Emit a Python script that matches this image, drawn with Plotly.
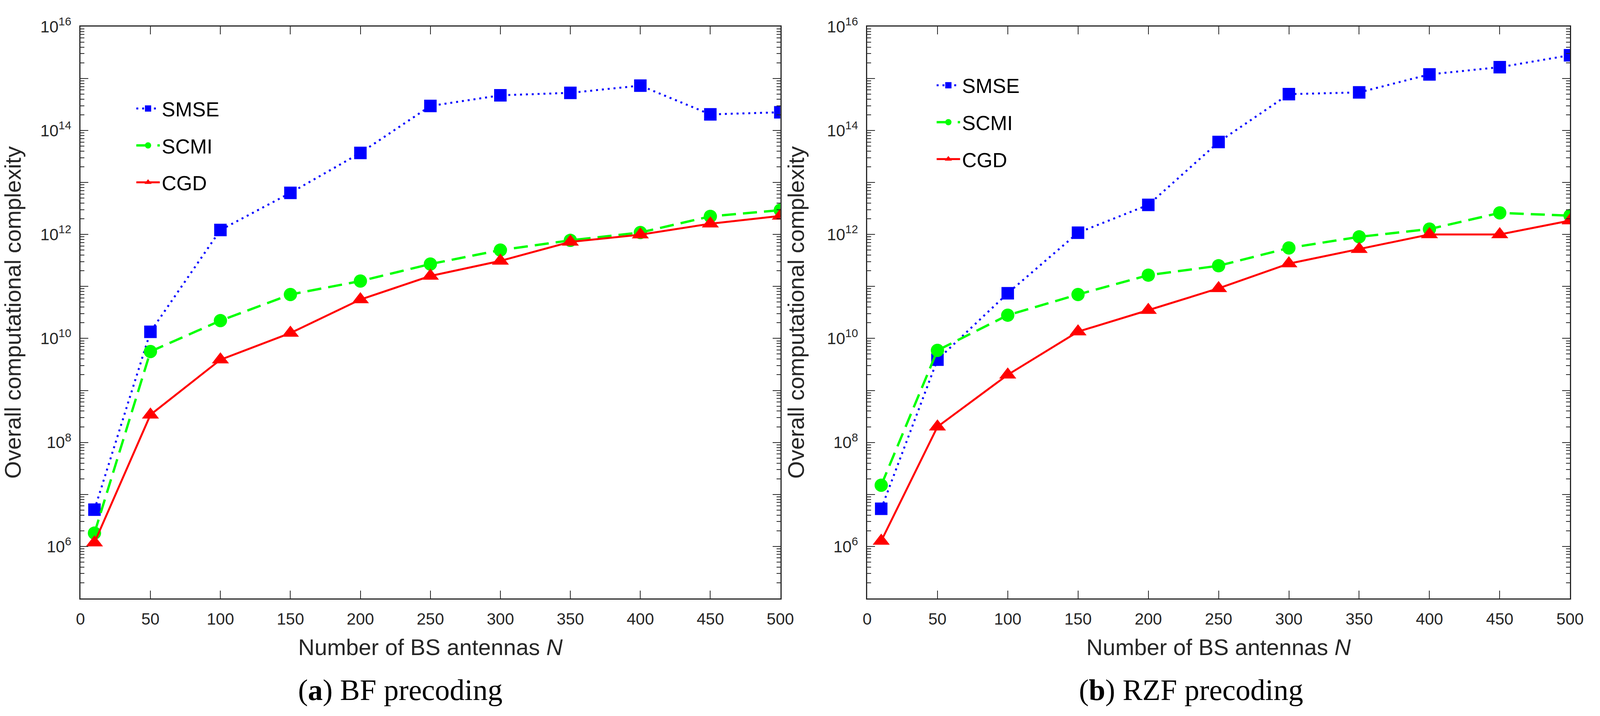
import plotly.graph_objects as go

# number of BS antennas
N = [10, 50, 100, 150, 200, 250, 300, 350, 400, 450, 500]

# (a) BF precoding
bf_smse = [5.1e6, 1.34e10, 1.22e12, 6.3e12, 3.7e13, 2.96e14, 4.75e14, 5.3e14, 7.3e14, 2.04e14, 2.24e14]
bf_scmi = [1.8e6, 5.6e9, 2.2e10, 7.0e10, 1.27e11, 2.7e11, 5.0e11, 7.7e11, 1.09e12, 2.23e12, 2.94e12]
bf_cgd = [1.18e6, 3.4e8, 3.9e9, 1.27e10, 5.6e10, 1.59e11, 3.1e11, 7.2e11, 9.9e11, 1.61e12, 2.27e12]

# (b) RZF precoding
rzf_smse = [5.3e6, 3.9e9, 7.4e10, 1.08e12, 3.7e12, 6.0e13, 5.0e14, 5.4e14, 1.2e15, 1.65e15, 2.8e15]
rzf_scmi = [1.5e7, 5.9e9, 2.8e10, 7.0e10, 1.65e11, 2.5e11, 5.5e11, 9.0e11, 1.27e12, 2.6e12, 2.3e12]
rzf_cgd = [1.27e6, 2.0e8, 2.0e9, 1.35e10, 3.5e10, 9.2e10, 2.75e11, 5.2e11, 1.0e12, 1.0e12, 1.85e12]

names = ["SMSE", "SCMI", "CGD"]
captions = ["(<b>a</b>) BF precoding", "(<b>b</b>) RZF precoding"]

FONT = "Liberation Sans, Arial, Helvetica, sans-serif"
AXC = "#262626"

# y ticks: every decade, labels on even exponents
exps = list(range(5, 17))
ytv = [10.0 ** e for e in exps]
ytt = ["10<sup>%d</sup>" % e if e % 2 == 0 else "" for e in exps]
ymin = [m * 10.0 ** e for e in range(5, 16) for m in range(2, 10)]

styles = [
    dict(color="#0000FF", dash="5px,10px", width=5, symbol="square", size=32),
    dict(color="#00FF00", dash="36px,18px", width=6, symbol="circle", size=34),
    dict(color="#FF0000", dash="solid", width=5, symbol="triangle-up", size=38),
]

fig = go.Figure()

panels = [
    ([bf_smse, bf_scmi, bf_cgd], "x", "y", "legend"),
    ([rzf_smse, rzf_scmi, rzf_cgd], "x2", "y2", "legend2"),
]
for series, xa, ya, leg in panels:
    for name, vals, st in zip(names, series, styles):
        fig.add_trace(go.Scatter(
            x=N, y=vals, name=name, mode="lines+markers",
            xaxis=xa, yaxis=ya, legend=leg, legendgroup=leg + name,
            line=dict(color=st["color"], dash=st["dash"], width=st["width"]),
            marker=dict(color=st["color"], symbol=st["symbol"], size=st["size"],
                        line=dict(width=0)),
        ))

xax = dict(
    range=[0, 500], tickmode="array", tickvals=list(range(0, 501, 50)),
    ticks="inside", ticklen=20, tickwidth=2, tickcolor=AXC,
    showline=True, linecolor=AXC, linewidth=3, mirror="ticks",
    showgrid=False, zeroline=False, ticklabelstandoff=14,
    tickfont=dict(family=FONT, size=42, color=AXC),
    title=dict(text="Number of BS antennas <i>N</i>", standoff=30,
               font=dict(family=FONT, size=58, color=AXC)),
)
yax = dict(
    type="log", range=[5, 16], tickmode="array", tickvals=ytv, ticktext=ytt,
    ticks="inside", ticklen=20, tickwidth=2, tickcolor=AXC,
    minor=dict(tickmode="array", tickvals=ymin, ticks="inside", ticklen=10,
               tickwidth=2, tickcolor=AXC, showgrid=False),
    showline=True, linecolor=AXC, linewidth=3, mirror="ticks",
    showgrid=False, zeroline=False, ticklabelstandoff=12,
    tickfont=dict(family=FONT, size=42, color=AXC),
    title=dict(text="Overall computational complexity", standoff=40,
               font=dict(family=FONT, size=58, color=AXC)),
)

leg = dict(font=dict(family=FONT, size=52, color="black"), bgcolor="rgba(0,0,0,0)",
           tracegroupgap=24, xanchor="left", yanchor="top", itemwidth=60)

fig.update_layout(
    width=4096, height=1833,
    margin=dict(l=0, r=0, t=0, b=0),
    plot_bgcolor="white", paper_bgcolor="white",
    xaxis=dict(xax, domain=[0.0479, 0.4904], anchor="y"),
    yaxis=dict(yax, domain=[0.167, 0.979], anchor="x"),
    xaxis2=dict(xax, domain=[0.5453, 0.9897], anchor="y2"),
    yaxis2=dict(yax, domain=[0.167, 0.979], anchor="x2"),
    legend=dict(leg, x=0.082, y=0.885),
    legend2=dict(leg, x=0.588, y=0.918),
    showlegend=True,
)

for cx, cap in zip([0.25, 0.75], captions):
    fig.add_annotation(text=cap, xref="paper", yref="paper", x=cx, y=0.037,
                       showarrow=False, xanchor="center", yanchor="middle",
                       font=dict(family="Liberation Serif, Times New Roman, serif",
                                 size=76, color="black"))

# fit the figure to the browser window (no body margin, no scrollbars)
fit_js = """
document.body.style.margin = '0';
document.body.style.overflow = 'hidden';
var gd = document.getElementById('{plot_id}');
Plotly.relayout(gd, {width: window.innerWidth, height: window.innerHeight});
"""

fig.write_html("out.html", post_script=fit_js, config={"displayModeBar": False})
